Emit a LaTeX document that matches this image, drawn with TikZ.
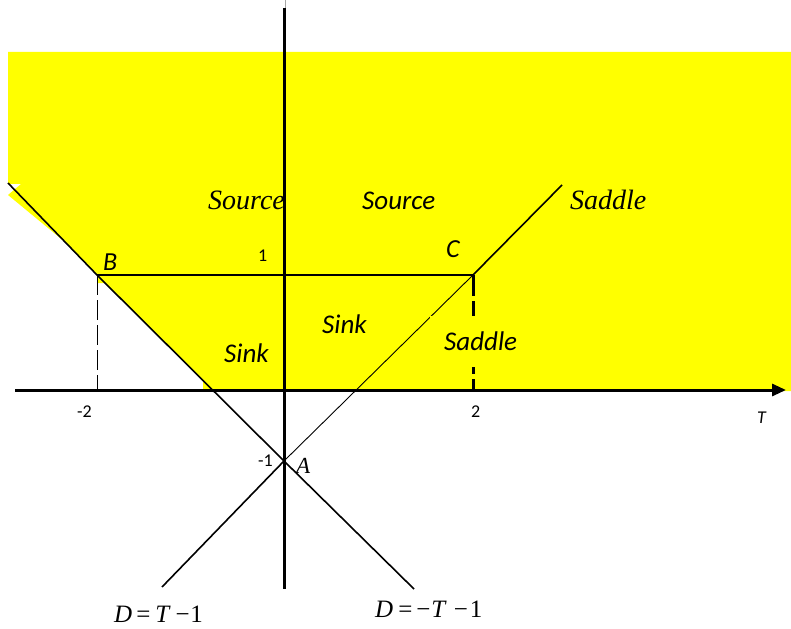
\documentclass[tikz,border=0pt]{standalone}
\usepackage{fontspec}
\setmainfont{Liberation Serif}
\newfontfamily\tim{Liberation Serif}
\newfontfamily\carl{Carlito}
\usetikzlibrary{arrows.meta}
\definecolor{fillyel}{RGB}{255,255,0}
\begin{document}
\begin{tikzpicture}[x=1pt,y=-1pt,
  lbl/.style={inner sep=0pt, anchor=base west},
  calit/.style={lbl, font=\carl\itshape\fontsize{27pt}{27pt}\selectfont},
  calnum/.style={lbl, font=\carl\fontsize{18pt}{18pt}\selectfont},
  timit/.style={lbl, font=\tim\itshape\fontsize{28pt}{28pt}\selectfont},
  eqn/.style={lbl, font=\tim\fontsize{25pt}{25pt}\selectfont},
  axis/.style={line width=3pt},
  diag/.style={line width=1.6pt},
  thin/.style={line width=0.9pt}]
\useasboundingbox (0,0) rectangle (791,628);
% shaded region
\fill[fillyel] (8,52) -- (791,52) -- (791,391) -- (203,391) -- (203,381)
  -- (105,283) -- (98,283) -- (98,276) -- (65,242) -- (8,195) -- (21,184) -- (8,184) -- cycle;
% named points
\coordinate (A) at (284,461);
\coordinate (B) at (97,275);
\coordinate (C) at (473,275);
\coordinate (Bfoot) at (97,390);
\coordinate (Cfoot) at (473,390);
\coordinate (Ltop) at (8,183);
\coordinate (Lbot) at (414,589);
\coordinate (Rbot) at (162,587);
\coordinate (Rtop) at (562,185);
\coordinate (Ytop) at (284,8);
\coordinate (Ybot) at (284,589);
\coordinate (Xl) at (15,390);
\coordinate (Xr) at (786,390);
% axes
\draw[gray!70, line width=0.8pt] (285.5,0) -- (285.5,8);
\draw[axis] (Ytop) -- (Ybot);
\draw[axis, -{Triangle[length=14pt,width=12pt]}] (Xl) -- (Xr);
% lines
\draw[diag] (Ltop) -- (B) -- (A) -- (Lbot);
\draw[diag] (Rbot) -- (A);
\draw[thin] (A) -- (C);
\draw[diag] (C) -- (Rtop);
\draw[line width=1.4pt] (B) -- (C);
\draw[line width=0.9pt, dash pattern=on 20pt off 5pt] (B) -- (Bfoot);
\draw[line width=3pt, dash pattern=on 21pt off 5pt] (C) -- (Cfoot);
% text box behind lower Saddle
\fill[fillyel] (430,316) rectangle (537,367);
% labels
\node[timit] (src1) at (208,210) {Source};
\node[calit] (src2) at (362,210) {Source};
\node[timit] (sad1) at (570,210) {Saddle};
\node[calit, font=\carl\itshape\fontsize{26pt}{26pt}\selectfont] (lB) at (103,270) {B};
\node[calit, font=\carl\itshape\fontsize{26pt}{26pt}\selectfont] (lC) at (446,257) {C};
\node[calnum] (one) at (258,261) {1};
\node[calit] (sink1) at (322,333) {Sink};
\node[calit] (sink2) at (224,362) {Sink};
\node[calit] (sad2) at (444,350) {Saddle};
\node[calnum] (m2) at (77,417) {-2};
\node[calnum] (p2) at (471,417) {2};
\node[calnum, font=\carl\itshape\fontsize{18pt}{18pt}\selectfont] (lT) at (757,423) {T};
\node[calnum] (m1) at (258,466) {-1};
\node[timit, font=\tim\itshape\fontsize{23pt}{23pt}\selectfont] (lA) at (296,473) {A};
\node[eqn] (eq1) at (114,622) {\textit{D}\hspace{4pt}=\hspace{5pt}\textit{T}\hspace{5pt}−\hspace{0.5pt}1};
\node[eqn] (eq2) at (375,617) {\textit{D}\hspace{5pt}=\hspace{4pt}−\hspace{1pt}\textit{T}\hspace{7pt}−\hspace{2pt}1};
\end{tikzpicture}
\end{document}
